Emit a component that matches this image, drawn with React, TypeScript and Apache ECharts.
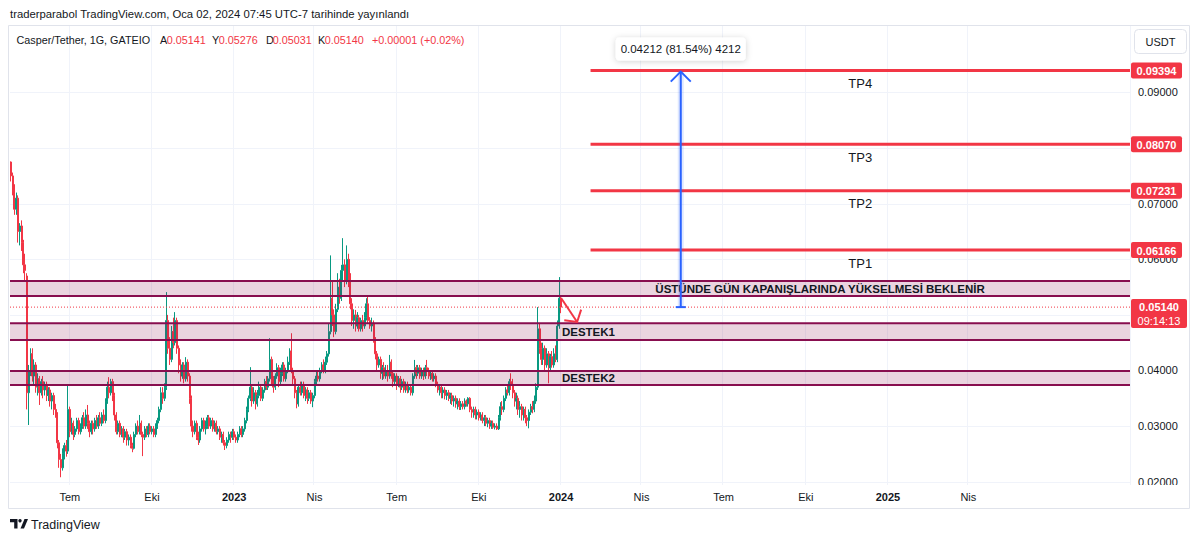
import React, { useEffect, useRef } from 'react';
import * as echarts from 'echarts';

const FONT = '"Liberation Sans", Arial, sans-serif';
const TEXT = '#131722';
const UP = '#089981';
const DOWN = '#f23645';

const START_DATE = '2022-04-25';
const TOTAL_DAYS = 1254;
const DAYS_PER_CANDLE = 2;
const LAST_TICK_DATE = '2025-04-01';
const PRICE_UNIT = 0.00001;
const Y_MIN = 0.019406;
const Y_MAX = 0.10214;

// 2-day candles from 2022-04-25: [open, close, low, high] in 0.00001 USDT
const candles: number[][] = [
  [7750,7500,7400,7760],[7500,7300,7150,7560],[7300,6900,6800,7350],[6900,7100,6800,7200],[7100,6500,6300,7150],[6500,6600,6250,6650],[6600,6300,6150,6700],[6300,5900,5750,6350],[5900,5800,5600,6100],[5700,3600,3300,5750],
  [3600,4000,3020,4100],[4000,4300,3900,4400],[4300,3900,3800,4400],[3900,4100,3750,4200],[4100,3700,3600,4150],[3700,3850,3550,3950],[3850,3600,3380,3900],[3600,3800,3550,3850],[3800,3650,3500,3900],[3650,3750,3550,3800],
  [3750,3550,3450,3800],[3550,3650,3450,3700],[3650,3450,3350,3700],[3450,3550,3300,3600],[3550,3300,3200,3600],[3300,3200,3150,3400],[3200,2700,2600,3250],[2700,2400,2250,2750],[2400,2250,2080,2500],[2250,2500,2200,2600],
  [2500,2650,2400,2700],[2650,2550,2450,2750],[2550,3300,2500,3740],[3300,2900,2800,3350],[2900,3050,2850,3150],[3050,2850,2750,3100],[2850,2950,2800,3000],[2950,3100,2900,3150],[3100,2900,2850,3150],[2900,3000,2850,3050],
  [3000,3150,2950,3200],[3150,3000,2950,3250],[3000,3200,2950,3300],[3200,3050,2950,3380],[3050,2900,2800,3100],[2900,3050,2850,3100],[3050,2950,2850,3100],[2950,3100,2900,3150],[3100,3000,2950,3200],[3000,3150,2950,3200],
  [3150,3050,3000,3250],[3050,3200,3000,3250],[3200,3100,3050,3300],[3100,3450,3050,3500],[3450,3700,3400,3800],[3700,3600,3500,3880],[3600,3800,3550,3850],[3800,3550,3450,3850],[3550,3200,3100,3600],[3200,2900,2850,3250],
  [2900,3050,2850,3100],[3050,2850,2800,3100],[2850,2950,2800,3000],[2950,2800,2700,3000],[2800,2900,2750,2950],[2900,2750,2650,2950],[2750,2800,2650,2850],[2800,2650,2600,2850],[2650,2600,2530,2700],[2600,2850,2580,2900],
  [2850,3000,2800,3050],[3000,2900,2850,3100],[2900,3050,2850,3200],[3050,2850,2800,3100],[2850,2800,2460,2900],[2800,2950,2750,3000],[2950,2850,2800,3000],[2850,3000,2800,3050],[3000,2900,2850,3050],[2900,2950,2850,3000],
  [2950,2850,2800,3000],[2850,3000,2800,3050],[3000,3100,2950,3150],[3100,3300,3050,3350],[3300,3600,3250,3700],[3600,3500,3400,3700],[3500,3700,3450,3770],[3700,4900,3650,5410],[4900,4400,4300,5000],[4400,4200,4100,4600],
  [4200,4700,4150,4800],[4700,4500,4400,4950],[4500,4900,4450,5050],[4900,4400,4300,4950],[4400,4100,3950,4450],[4100,3900,3800,4200],[3900,4100,3850,4150],[4100,3850,3770,4150],[3850,4150,3800,4240],[4150,3900,3800,4200],
  [3900,3500,3400,3950],[3500,3000,2900,3550],[3000,2900,2800,3100],[2900,3050,2850,3100],[3050,2800,2750,3100],[2800,2750,2660,2900],[2750,2950,2700,3000],[2950,3100,2900,3150],[3100,2950,2900,3150],[2950,3000,2850,3100],
  [3000,3150,2950,3200],[3150,3000,2950,3200],[3000,3100,2950,3150],[3100,2950,2900,3150],[2950,3050,2900,3100],[3050,2900,2850,3100],[2900,2950,2850,3000],[2950,2800,2750,3000],[2800,2850,2700,2900],[2850,2700,2650,2900],
  [2700,2650,2570,2750],[2650,2750,2600,2800],[2750,2850,2700,2900],[2850,2800,2700,2900],[2800,2900,2750,2950],[2900,2800,2750,2950],[2800,2750,2700,2850],[2750,2850,2700,2900],[2850,2950,2800,3000],[2950,2850,2800,3000],
  [2850,2950,2800,3000],[2950,3100,2900,3150],[3100,3300,3050,3350],[3300,3500,3250,3550],[3500,3700,3450,4060],[3700,3450,3350,3750],[3450,3600,3400,3700],[3600,3400,3300,3650],[3400,3550,3350,3650],[3550,3700,3500,3800],
  [3700,3500,3450,3750],[3500,3650,3450,3700],[3650,3800,3600,3850],[3800,3700,3650,3900],[3700,3850,3650,3900],[3850,4200,3800,4580],[4200,3850,3750,4250],[3850,3700,3600,3900],[3700,3900,3650,3950],[3900,4050,3850,4130],
  [4050,3800,3700,4100],[3800,3950,3750,4050],[3950,4100,3900,4150],[4100,3850,3800,4150],[3850,4000,3800,4050],[4000,4150,3950,4250],[4150,4350,4100,4400],[4350,4000,3950,4670],[4000,3850,3750,4050],[3850,3600,3500,3900],
  [3600,3400,3320,3650],[3400,3700,3350,3750],[3700,3600,3550,3800],[3600,3750,3550,3800],[3750,3550,3500,3800],[3550,3650,3450,3700],[3650,3500,3400,3700],[3500,3600,3450,3650],[3600,3450,3400,3650],[3450,3550,3340,3600],
  [3550,3800,3500,3850],[3800,3900,3750,4000],[3900,3850,3800,4000],[3850,4000,3800,4050],[4000,4100,3950,4150],[4100,4000,3950,4200],[4000,4150,3950,4250],[4150,4300,4100,4350],[4300,4700,4250,4850],[4700,5300,4650,6070],
  [5300,5000,4800,5600],[5000,4700,4600,5100],[4700,5100,4650,5200],[5100,5500,5050,5750],[5500,5300,5200,5650],[5300,5800,5250,5900],[5800,5900,5600,6380],[5900,5600,5500,6000],[5600,6000,5550,6250],[6000,5700,5500,6100],
  [5700,5200,5100,5750],[5200,4900,4800,5300],[4900,5000,4750,5100],[5000,4800,4700,5090],[4800,4950,4750,5050],[4950,4750,4700,5000],[4750,4900,4700,4950],[4900,4800,4700,5000],[4800,4950,4750,5050],[4950,5200,4900,5300],
  [5200,4900,4850,5350],[4900,4800,4750,4960],[4800,4850,4700,4950],[4850,4550,4500,4900],[4550,4300,4200,4600],[4300,4100,4000,4350],[4100,4200,4050,4250],[4200,3950,3850,4250],[3950,4050,3830,4100],[4050,3900,3850,4150],
  [3900,4000,3850,4100],[4000,3900,3800,4100],[3900,4150,3850,4280],[4150,3950,3850,4200],[3950,3800,3700,4000],[3800,3900,3750,3950],[3900,3750,3650,3950],[3750,3850,3700,3900],[3850,3700,3600,3900],[3700,3800,3650,3850],
  [3800,3650,3600,3850],[3650,3750,3600,3800],[3750,3650,3590,3800],[3650,3700,3600,3750],[3700,3600,3550,3750],[3600,3900,3550,3950],[3900,4050,3850,4190],[4050,3950,3850,4100],[3950,4050,3900,4100],[4050,3900,3850,4100],
  [3900,4000,3850,4050],[4000,3900,3830,4050],[3900,4050,3850,4100],[4050,4000,3900,4190],[4000,3900,3850,4050],[3900,3950,3830,4000],[3950,3850,3800,4000],[3850,3900,3800,3950],[3900,3750,3700,3950],[3750,3650,3600,3800],
  [3650,3700,3550,3750],[3700,3600,3500,3750],[3600,3650,3500,3700],[3650,3550,3480,3700],[3550,3600,3470,3650],[3600,3500,3450,3650],[3500,3550,3400,3600],[3550,3450,3380,3600],[3450,3500,3350,3550],[3500,3400,3330,3550],
  [3400,3450,3300,3500],[3450,3350,3290,3500],[3350,3400,3290,3450],[3400,3350,3300,3450],[3350,3450,3300,3500],[3450,3400,3350,3480],[3400,3500,3350,3520],[3500,3300,3250,3520],[3300,3250,3150,3350],[3250,3300,3150,3350],
  [3300,3200,3120,3350],[3200,3250,3120,3300],[3250,3150,3100,3300],[3150,3200,3100,3250],[3200,3100,3050,3250],[3100,3150,3000,3200],[3150,3050,3000,3200],[3050,3100,2980,3150],[3100,3000,2950,3150],[3000,3050,2950,3100],
  [3050,2980,2950,3100],[2980,3000,2940,3050],[3000,2950,2930,3050],[2950,3150,2930,3200],[3150,3350,3100,3430],[3350,3300,3200,3450],[3300,3500,3250,3550],[3500,3650,3450,3700],[3650,3600,3550,3750],[3600,3800,3550,3850],
  [3800,3750,3650,3950],[3750,3600,3500,3850],[3600,3450,3350,3650],[3450,3500,3300,3600],[3500,3300,3200,3550],[3300,3350,3150,3450],[3350,3200,3100,3400],[3200,3300,3100,3350],[3300,3150,3050,3350],[3150,3100,3000,3200],
  [3100,3250,2960,3300],[3250,3350,3200,3400],[3350,3300,3230,3450],[3300,3450,3250,3550],[3450,3700,3400,3770],[3700,4750,3650,5140],[4750,4400,4300,4850],[4400,4200,4100,4500],[4200,4400,4100,4500],[4400,4100,4000,4450],
  [4100,4300,4050,4400],[4300,4050,3770,4350],[4050,4250,4000,4300],[4250,4100,4050,4350],[4100,4300,4050,4400],[4300,4200,4150,4450],[4200,4800,4150,4900],[4800,5300,4750,5680],[5300,5140,5031,5350],
];

const yGridValues = [0.02, 0.03, 0.04, 0.05, 0.06, 0.07, 0.08, 0.09];
const yLabelValues = [0.02, 0.03, 0.04, 0.06, 0.07, 0.09];
const zones = [
  [0.05341, 0.05611],
  [0.04549, 0.0485],
  [0.0374, 0.03991],
];
const tpLevels = [0.09394, 0.0807, 0.07231, 0.06166];
const tpNames = ['TP4', 'TP3', 'TP2', 'TP1'];
const lastPrice = 0.0514;
const countdown = '09:14:13';
const quarterNames = ['', 'Nis', 'Tem', 'Eki'];
const tpStartDate = '2024-02-05';
const rulerDate = '2024-05-14';
const rulerLabel = '0.04212 (81.54%) 4212';
const noteDate = '2024-10-17';
const noteText = 'ÜSTÜNDE GÜN KAPANIŞLARINDA YÜKSELMESİ BEKLENİR';
const supportDate = '2024-01-04';
const supportNames = ['DESTEK1', 'DESTEK2'];
const arrowFromDate = '2024-01-02';
const arrowFromPrice = 0.05305;
const arrowToDate = '2024-01-20';
const arrowToPrice = 0.04873;
const headerTitle = 'traderparabol TradingView.com, Oca 02, 2024 07:45 UTC-7 tarihinde yayınlandı';
const symbolName = 'Casper/Tether, 1G, GATEIO';
const ohlcLetters = ['A', 'Y', 'D', 'K'];
const ohlcValues = ['0.05141', '0.05276', '0.05031', '0.05140'];
const changeText = '+0.00001 (+0.02%)';

const DAY_MS = 86400000;
const parseDay = (s: string) => {
  const [y, m, d] = s.split('-').map(Number);
  return Date.UTC(y, m - 1, d);
};
const startMs = parseDay(START_DATE);
const lastTickMs = parseDay(LAST_TICK_DATE);
const N = TOTAL_DAYS / DAYS_PER_CANDLE;
const catIndex = (s: string) => Math.floor(Math.round((parseDay(s) - startMs) / DAY_MS) / DAYS_PER_CANDLE);

const categories: string[] = [];
const tickLabels: string[] = [];
for (let i = 0; i < N; i++) {
  const ms = startMs + i * DAYS_PER_CANDLE * DAY_MS;
  categories.push(new Date(ms).toISOString().slice(0, 10));
  let label = '';
  for (let j = 0; j < DAYS_PER_CANDLE; j++) {
    const t = ms + j * DAY_MS;
    const dd = new Date(t);
    if (t <= lastTickMs && dd.getUTCDate() === 1 && dd.getUTCMonth() % 3 === 0) {
      const m = dd.getUTCMonth();
      label = m === 0 ? '{b|' + dd.getUTCFullYear() + '}' : quarterNames[m / 3];
    }
  }
  tickLabels.push(label);
}

const candleData = candles.map((c) => c.map((v) => +(v * PRICE_UNIT).toFixed(6)));

function txt(text: string, x: number, y: number, extra: any = {}) {
  return {
    type: 'text',
    style: { text, x, y, fill: TEXT, fontSize: 11, fontFamily: FONT, align: 'left', verticalAlign: 'middle', ...extra },
  };
}

function frame(api: any) {
  const band = api.size([1, 0])[0];
  const xAt = (i: number) => api.coord([i, lastPrice])[0];
  const yAt = (v: number) => api.coord([0, v])[1];
  const left = xAt(0) - band / 2;
  const right = xAt(N - 1) + band / 2;
  return { band, xAt, yAt, left, right };
}

const renderBackground = (_p: any, api: any) => {
  const { yAt, left, right } = frame(api);
  return {
    type: 'group',
    children: yGridValues.map((v) => ({
      type: 'line',
      shape: { x1: left, y1: Math.round(yAt(v)) + 0.5, x2: right, y2: Math.round(yAt(v)) + 0.5 },
      style: { stroke: '#f0f3fa', lineWidth: 1 },
    })),
  };
};

const renderOverlay = (_p: any, api: any) => {
  const { band, xAt, yAt, left, right } = frame(api);
  const kids: any[] = [];

  zones.forEach(([lo, hi]) => {
    const yHi = yAt(hi);
    const yLo = yAt(lo);
    kids.push({ type: 'rect', shape: { x: left, y: yHi, width: right - left, height: yLo - yHi }, style: { fill: 'rgba(136,14,79,0.18)' } });
    kids.push({ type: 'line', shape: { x1: left, y1: yHi, x2: right, y2: yHi }, style: { stroke: '#880e4f', lineWidth: 2 } });
    kids.push({ type: 'line', shape: { x1: left, y1: yLo, x2: right, y2: yLo }, style: { stroke: '#880e4f', lineWidth: 2 } });
  });

  const yL = yAt(lastPrice);
  kids.push({ type: 'line', shape: { x1: left, y1: yL, x2: right, y2: yL }, style: { stroke: DOWN, lineWidth: 1, lineDash: [1, 2] } });

  const tpX = xAt(catIndex(tpStartDate)) - band / 2;
  tpLevels.forEach((v, i) => {
    const y = yAt(v);
    kids.push({ type: 'line', shape: { x1: tpX, y1: y, x2: right, y2: y }, style: { stroke: DOWN, lineWidth: 3 } });
    kids.push(txt(tpNames[i], (tpX + right) / 2, y + 13, { fontSize: 13, align: 'center' }));
  });

  const zoneMid = (z: number[]) => yAt((z[0] + z[1]) / 2);
  kids.push(txt(noteText, xAt(catIndex(noteDate)), zoneMid(zones[0]) + 0.5, { fontSize: 11.5, fontWeight: 'bold', align: 'center' }));
  const sx = xAt(catIndex(supportDate)) - band / 2;
  kids.push(txt(supportNames[0], sx, zoneMid(zones[1]) + 0.5, { fontSize: 11.5, fontWeight: 'bold' }));
  kids.push(txt(supportNames[1], sx, zoneMid(zones[2]) + 0.5, { fontSize: 11.5, fontWeight: 'bold' }));

  const ax0 = xAt(catIndex(arrowFromDate));
  const ay0 = yAt(arrowFromPrice);
  const ax1 = xAt(catIndex(arrowToDate));
  const ay1 = yAt(arrowToPrice);
  const ang = Math.atan2(ay0 - ay1, ax0 - ax1);
  const arm = 13;
  const a1 = ang - 0.85;
  const a2 = ang + 0.9;
  kids.push({ type: 'line', shape: { x1: ax0, y1: ay0, x2: ax1, y2: ay1 }, style: { stroke: DOWN, lineWidth: 2 } });
  kids.push({
    type: 'polyline',
    shape: { points: [[ax1 + arm * Math.cos(a1), ay1 + arm * Math.sin(a1)], [ax1, ay1], [ax1 + arm * Math.cos(a2), ay1 + arm * Math.sin(a2)]] },
    style: { stroke: DOWN, lineWidth: 2, fill: 'none' },
  });

  const rx = xAt(catIndex(rulerDate));
  const rTop = yAt(tpLevels[0]);
  const rBot = yAt(lastPrice);
  kids.push({ type: 'rect', shape: { x: rx - 3, y: rTop, width: 6, height: rBot - rTop }, style: { fill: 'rgba(41,98,255,0.15)' } });
  kids.push({ type: 'line', shape: { x1: rx, y1: rTop + 1, x2: rx, y2: rBot }, style: { stroke: '#2962ff', lineWidth: 2 } });
  kids.push({ type: 'line', shape: { x1: rx - 5, y1: rBot, x2: rx + 5, y2: rBot }, style: { stroke: '#2962ff', lineWidth: 2 } });
  kids.push({
    type: 'polyline',
    shape: { points: [[rx - 10, rTop + 11], [rx, rTop + 1], [rx + 10, rTop + 11]] },
    style: { stroke: '#2962ff', lineWidth: 2, fill: 'none' },
  });
  kids.push({
    type: 'rect',
    shape: { x: rx - 65, y: rTop - 33, width: 130, height: 23, r: 4 },
    style: { fill: '#ffffff', shadowBlur: 6, shadowColor: 'rgba(0,0,0,0.18)', shadowOffsetY: 1 },
  });
  kids.push(txt(rulerLabel, rx, rTop - 21.5, { fontSize: 11.5, align: 'center' }));

  tpLevels.forEach((v) => {
    const y = yAt(v);
    kids.push({ type: 'rect', shape: { x: right + 1, y: y - 8, width: 51, height: 16, r: 2 }, style: { fill: DOWN } });
    kids.push(txt(v.toFixed(5), right + 26.5, y + 0.5, { fill: '#ffffff', fontWeight: 'bold', align: 'center' }));
  });
  kids.push({ type: 'rect', shape: { x: right + 1, y: yL - 8, width: 56, height: 29, r: 2 }, style: { fill: DOWN } });
  kids.push(txt(lastPrice.toFixed(5), right + 29, yL - 0.5, { fill: '#ffffff', fontWeight: 'bold', align: 'center' }));
  kids.push(txt(countdown, right + 29, yL + 13.5, { fill: '#ffffff', align: 'center' }));

  return { type: 'group', children: kids };
};

export default function App() {
  const ref = useRef<HTMLDivElement>(null);
  useEffect(() => {
    if (!ref.current) return;
    const chart = echarts.init(ref.current, undefined, { renderer: 'svg' });
    const gText = (text: string, x: number, y: number, extra: any = {}) => ({
      type: 'text',
      x,
      y,
      z: 100,
      style: { text, fill: TEXT, fontSize: 11, fontFamily: FONT, verticalAlign: 'middle', ...extra },
    });
    const letterX = [160, 212, 266, 318];
    const graphics: any[] = [
      { type: 'rect', z: 100, silent: true, shape: { x: 1131, y: 485, width: 58, height: 22.5 }, style: { fill: '#ffffff' } },
      { type: 'rect', z: 101, silent: true, shape: { x: 8.5, y: 25.5, width: 1181, height: 483 }, style: { fill: 'none', stroke: '#e0e3eb', lineWidth: 1 } },
      gText(headerTitle, 10, 13.5, { fontSize: 11.3 }),
      gText(symbolName, 16.5, 39.5, { fontSize: 10.8 }),
      ...ohlcLetters.flatMap((l, i) => [
        gText(l, letterX[i], 39.5, { fontSize: 10.8 }),
        gText(ohlcValues[i], letterX[i] + 6.8, 39.5, { fontSize: 10.8, fill: DOWN }),
      ]),
      gText(changeText, 372, 39.5, { fontSize: 10.8, fill: DOWN }),
      { type: 'rect', z: 100, shape: { x: 1134.5, y: 29.5, width: 52, height: 24, r: 4 }, style: { fill: '#ffffff', stroke: '#e0e3eb', lineWidth: 1 } },
      gText('USDT', 1160.5, 41.5, { align: 'center' }),
      { type: 'polygon', z: 100, shape: { points: [[10, 519], [17.5, 519], [17.5, 528.5], [14.2, 528.5], [14.2, 522.2], [10, 522.2]] }, style: { fill: TEXT } },
      { type: 'circle', z: 100, shape: { cx: 20, cy: 520.7, r: 1.7 }, style: { fill: TEXT } },
      { type: 'polygon', z: 100, shape: { points: [[20.5, 528.5], [24.5, 519], [28, 519], [24, 528.5]] }, style: { fill: TEXT } },
      gText('TradingView', 31, 524.5, { fontSize: 12.5 }),
    ];

    chart.setOption({
      animation: false,
      backgroundColor: '#ffffff',
      textStyle: { fontFamily: FONT },
      grid: { left: 10, right: 70, top: 25, bottom: 57, containLabel: false },
      xAxis: {
        type: 'category',
        data: categories,
        boundaryGap: true,
        axisLine: { show: false },
        axisTick: { show: false },
        axisLabel: {
          interval: (i: number) => tickLabels[i] !== '',
          formatter: (_v: string, i: number) => tickLabels[i],
          color: TEXT,
          fontSize: 11,
          fontFamily: FONT,
          margin: 6,
          rich: { b: { fontWeight: 'bold', color: TEXT, fontSize: 11, fontFamily: FONT } },
        },
        splitLine: { show: true, interval: (i: number) => tickLabels[i] !== '', lineStyle: { color: '#f0f3fa', width: 1 } },
      },
      yAxis: {
        type: 'value',
        position: 'right',
        min: Y_MIN,
        max: Y_MAX,
        axisLine: { show: false },
        axisTick: { show: false, customValues: yLabelValues },
        splitLine: { show: false },
        axisLabel: {
          customValues: yLabelValues,
          formatter: (v: number) => v.toFixed(5),
          color: TEXT,
          fontSize: 11,
          fontFamily: FONT,
          margin: 8,
        },
      },
      graphic: graphics,
      series: [
        {
          type: 'custom',
          z: 1,
          silent: true,
          data: [[0, lastPrice]],
          renderItem: renderBackground,
        },
        {
          type: 'candlestick',
          z: 2,
          data: candleData,
          barWidth: 1.5,
          itemStyle: { color: UP, color0: DOWN, borderColor: UP, borderColor0: DOWN, borderWidth: 1 },
        },
        {
          type: 'custom',
          z: 3,
          silent: true,
          data: [[0, lastPrice]],
          renderItem: renderOverlay,
        },
      ],
    });
    return () => chart.dispose();
  }, []);
  return <div ref={ref} style={{ position: 'fixed', left: 0, top: 0, width: 1200, height: 542, background: '#fff' }} />;
}
